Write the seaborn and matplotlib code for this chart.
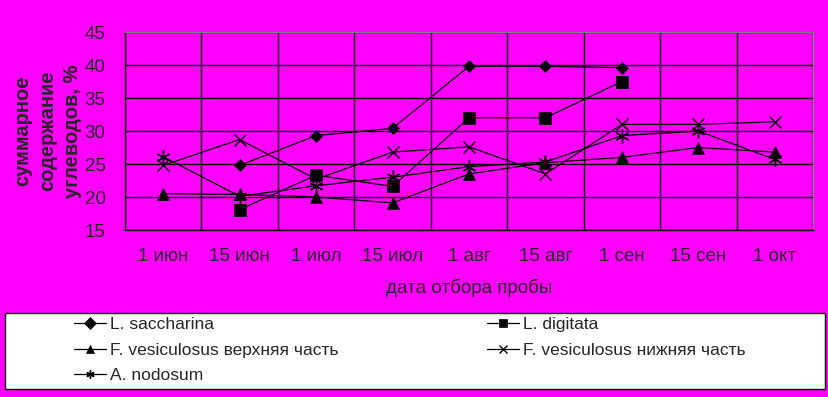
import pandas as pd
import matplotlib
matplotlib.use("Agg")
from matplotlib import pyplot as plt
from matplotlib.patches import Rectangle
import seaborn as sns

sns.set_style("white")
plt.rcParams["font.family"] = ["Liberation Sans", "DejaVu Sans"]

dates = ["1 июн", "15 июн", "1 июл", "15 июл", "1 авг", "15 авг", "1 сен", "15 сен", "1 окт"]
nan = float("nan")

saccharina = [nan, 24.8, 29.3, 30.4, 39.8, 39.8, 39.6, nan, nan]
digitata = [nan, 18.1, 23.3, 21.6, 32.0, 32.0, 37.5, nan, nan]
fves_upper = [20.5, 20.4, 20.0, 19.1, 23.5, 25.2, 26.0, 27.5, 26.8]
fves_lower = [24.8, 28.7, 22.7, 26.8, 27.6, 23.5, 31.0, 31.0, 31.4]
nodosum = [26.1, 20.1, 21.7, 23.0, 24.6, 25.3, 29.3, 30.0, 25.7]

names = ["L. saccharina", "L. digitata", "F. vesiculosus верхняя часть",
         "F. vesiculosus нижняя часть", "A. nodosum"]
series = [saccharina, digitata, fves_upper, fves_lower, nodosum]
markers = {names[0]: "D", names[1]: "s", names[2]: "^", names[3]: "x", names[4]: (6, 2, 0)}
sizes = {names[0]: 6.5, names[1]: 8, names[2]: 8, names[3]: 9, names[4]: 10}

rows = []
for name, vals in zip(names, series):
    for i, v in enumerate(vals):
        rows.append({"pos": i, "value": v, "series": name})
df = pd.DataFrame(rows).dropna()

fig = plt.figure(figsize=(8.29, 3.97), dpi=100, facecolor="#ff00ff")
ax = fig.add_axes([125 / 829, 1 - 230 / 397, 688 / 829, 198 / 397])
ax.set_facecolor("#ff00ff")

for name in names:
    sub = df[df["series"] == name]
    sns.lineplot(data=sub, x="pos", y="value", ax=ax, color="black", lw=0.9,
                 marker=markers[name], markersize=sizes[name], markeredgecolor="black",
                 markerfacecolor="black", markeredgewidth=1.0 if name in names[3:] else 0.5,
                 label=name, legend=False)

ax.set_xlim(-0.5, len(dates) - 0.5)
ax.set_ylim(15, 45)
ax.set_yticks(range(15, 46, 5))
ax.set_xticks(range(len(dates)))
ax.set_xticklabels(dates)
ax.set_xticks([i - 0.5 for i in range(len(dates) + 1)], minor=True)
ax.tick_params(axis="x", which="major", length=0, pad=13, labelsize=13.5)
ax.tick_params(axis="x", which="minor", length=6, width=1, color="black", direction="out")
ax.tick_params(axis="y", length=6, width=1, color="black", direction="out", pad=8, labelsize=13.5)
ax.grid(True, which="major", axis="y", color="black", lw=1)
ax.grid(True, which="minor", axis="x", color="black", lw=1)
ax.grid(False, which="major", axis="x")
ax.set_xlabel("")
ax.set_ylabel("")
for side in ["left", "bottom"]:
    ax.spines[side].set_color("black")
for side in ["top", "right"]:
    ax.spines[side].set_color("#808080")
for s in ax.spines.values():
    s.set_linewidth(1)

fig.text(469 / 829, 1 - 288 / 397, "дата отбора пробы", ha="center", va="center", fontsize=13.5)
fig.text(48 / 829, 1 - 131 / 397, "суммарное\nсодержание\nуглеводов, %", rotation=90,
         ha="center", va="center", multialignment="center", fontsize=14.5,
         fontweight="bold", linespacing=1.4)

# legend box
fig.patches.append(Rectangle((5 / 829, 1 - 389 / 397), 820 / 829, 76 / 397,
                             transform=fig.transFigure, facecolor="white",
                             edgecolor="black", lw=1, zorder=0))
handles, labels = ax.get_legend_handles_labels()
lookup = dict(zip(labels, handles))
leg_kw = dict(loc="upper left", frameon=False, fontsize=12.5, handlelength=1.85,
              handletextpad=0.2, labelspacing=0.6, borderaxespad=0, borderpad=0)
col1 = [names[0], names[2], names[4]]
col2 = [names[1], names[3]]
leg1 = fig.legend([lookup[n] for n in col1], col1, bbox_to_anchor=(74 / 829, 1 - 317 / 397), **leg_kw)
leg2 = fig.legend([lookup[n] for n in col2], col2, bbox_to_anchor=(487 / 829, 1 - 317 / 397), **leg_kw)
for leg in (leg1, leg2):
    for h in leg.legend_handles:
        h.set_markersize(6)

fig.savefig("out.png", dpi=100, facecolor=fig.get_facecolor())
